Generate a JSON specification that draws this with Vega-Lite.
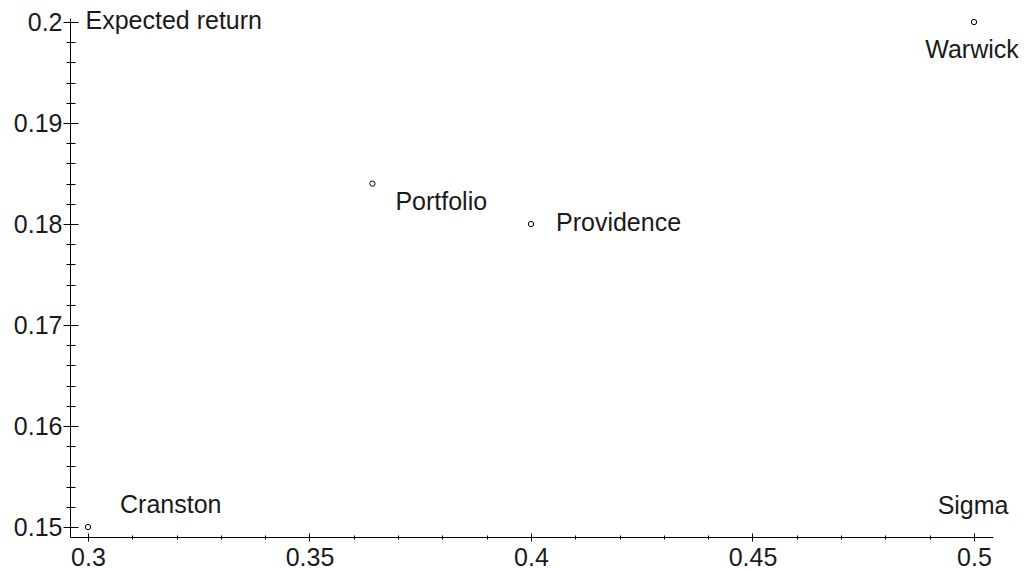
{
  "$schema": "https://vega.github.io/schema/vega-lite/v6.json",
  "width": 923,
  "height": 519,
  "autosize": "none",
  "padding": {"left": 70, "top": 18, "right": 31, "bottom": 32},
  "background": "white",
  "config": {
    "view": {"stroke": null},
    "font": "Liberation Sans",
    "axis": {
      "grid": false,
      "domainColor": "#000",
      "domainWidth": 1,
      "tickColor": "#000",
      "tickWidth": 1,
      "labelColor": "#1a1a1a",
      "labelFont": "Liberation Sans",
      "labelFontSize": 25,
      "labelFlush": false,
      "labelOverlap": false,
      "labelBound": false,
      "titleFont": "Liberation Sans",
      "titleFontSize": 25,
      "titleFontWeight": "normal",
      "titleColor": "#1a1a1a"
    }
  },
  "data": {
    "values": [
      {"name": "Cranston", "sigma": 0.3, "ret": 0.15},
      {"name": "Portfolio", "sigma": 0.3642, "ret": 0.184},
      {"name": "Providence", "sigma": 0.4, "ret": 0.18},
      {"name": "Warwick", "sigma": 0.5, "ret": 0.2}
    ]
  },
  "layer": [
    {
      "mark": {"type": "point", "filled": false, "stroke": "#000", "strokeWidth": 1, "size": 28, "opacity": 1},
      "encoding": {
        "x": {
          "field": "sigma", "type": "quantitative",
          "scale": {"domain": [0.295937, 0.504289], "zero": false, "nice": false},
          "axis": {
            "orient": "bottom",
            "values": [0.3,0.31,0.32,0.33,0.34,0.35,0.36,0.37,0.38,0.39,0.4,0.41,0.42,0.43,0.44,0.45,0.46,0.47,0.48,0.49,0.5],
            "labelExpr": "abs(datum.value*20 - round(datum.value*20)) < 0.001 ? format(datum.value, '.2~f') : ''",
            "tickSize": {"condition": {"test": "abs(datum.value*20 - round(datum.value*20)) < 0.001", "value": 4}, "value": 2},
            "labelPadding": 4,
            "title": "Sigma",
            "titleAnchor": null,
            "titleAngle": 0,
            "titleAlign": "right",
            "titleBaseline": "alphabetic",
            "titleX": 938,
            "titleY": -24
          }
        },
        "y": {
          "field": "ret", "type": "quantitative",
          "scale": {"domain": [0.14901, 0.2004], "zero": false, "nice": false},
          "axis": {
            "orient": "left",
            "values": [0.15,0.152,0.154,0.156,0.158,0.16,0.162,0.164,0.166,0.168,0.17,0.172,0.174,0.176,0.178,0.18,0.182,0.184,0.186,0.188,0.19,0.192,0.194,0.196,0.198,0.2],
            "labelExpr": "abs(datum.value*100 - round(datum.value*100)) < 0.001 ? format(datum.value, '.2~f') : ''",
            "tickSize": {"condition": {"test": "abs(datum.value*100 - round(datum.value*100)) < 0.001", "value": 7}, "value": 4},
            "labelPadding": 1,
            "title": "Expected return",
            "titleAnchor": null,
            "titleAngle": 0,
            "titleAlign": "left",
            "titleBaseline": "alphabetic",
            "titleX": 15,
            "titleY": 10
          }
        }
      }
    },
    {
      "mark": {"type": "point", "opacity": 0},
      "encoding": {
        "x": {
          "field": "sigma", "type": "quantitative",
          "axis": {
            "orient": "bottom",
            "values": [0.3,0.31,0.32,0.33,0.34,0.35,0.36,0.37,0.38,0.39,0.4,0.41,0.42,0.43,0.44,0.45,0.46,0.47,0.48,0.49,0.5],
            "labels": false,
            "domain": false,
            "tickSize": {"condition": {"test": "abs(datum.value*20 - round(datum.value*20)) < 0.001", "value": -4}, "value": -2},
            "title": null
          }
        },
        "y": {
          "field": "ret", "type": "quantitative",
          "axis": {
            "orient": "left",
            "values": [0.15,0.152,0.154,0.156,0.158,0.16,0.162,0.164,0.166,0.168,0.17,0.172,0.174,0.176,0.178,0.18,0.182,0.184,0.186,0.188,0.19,0.192,0.194,0.196,0.198,0.2],
            "labels": false,
            "domain": false,
            "tickSize": {"condition": {"test": "abs(datum.value*100 - round(datum.value*100)) < 0.001", "value": -8}, "value": -5},
            "title": null
          }
        }
      }
    },
    {
      "transform": [{"filter": "datum.name == 'Warwick'"}],
      "mark": {"type": "text", "align": "center", "baseline": "alphabetic", "dx": -2, "dy": 36, "fontSize": 25, "font": "Liberation Sans", "color": "#1a1a1a"},
      "encoding": {
        "x": {"field": "sigma", "type": "quantitative", "axis": null},
        "y": {"field": "ret", "type": "quantitative", "axis": null},
        "text": {"field": "name"}
      }
    },
    {
      "transform": [{"filter": "datum.name == 'Providence'"}],
      "mark": {"type": "text", "align": "left", "baseline": "alphabetic", "dx": 25, "dy": 7, "fontSize": 25, "font": "Liberation Sans", "color": "#1a1a1a"},
      "encoding": {
        "x": {"field": "sigma", "type": "quantitative", "axis": null},
        "y": {"field": "ret", "type": "quantitative", "axis": null},
        "text": {"field": "name"}
      }
    },
    {
      "transform": [{"filter": "datum.name == 'Portfolio'"}],
      "mark": {"type": "text", "align": "left", "baseline": "alphabetic", "dx": 23, "dy": 26, "fontSize": 25, "font": "Liberation Sans", "color": "#1a1a1a"},
      "encoding": {
        "x": {"field": "sigma", "type": "quantitative", "axis": null},
        "y": {"field": "ret", "type": "quantitative", "axis": null},
        "text": {"field": "name"}
      }
    },
    {
      "transform": [{"filter": "datum.name == 'Cranston'"}],
      "mark": {"type": "text", "align": "left", "baseline": "alphabetic", "dx": 32, "dy": -14, "fontSize": 25, "font": "Liberation Sans", "color": "#1a1a1a"},
      "encoding": {
        "x": {"field": "sigma", "type": "quantitative", "axis": null},
        "y": {"field": "ret", "type": "quantitative", "axis": null},
        "text": {"field": "name"}
      }
    }
  ],
  "resolve": {"axis": {"x": "independent", "y": "independent"}}
}
